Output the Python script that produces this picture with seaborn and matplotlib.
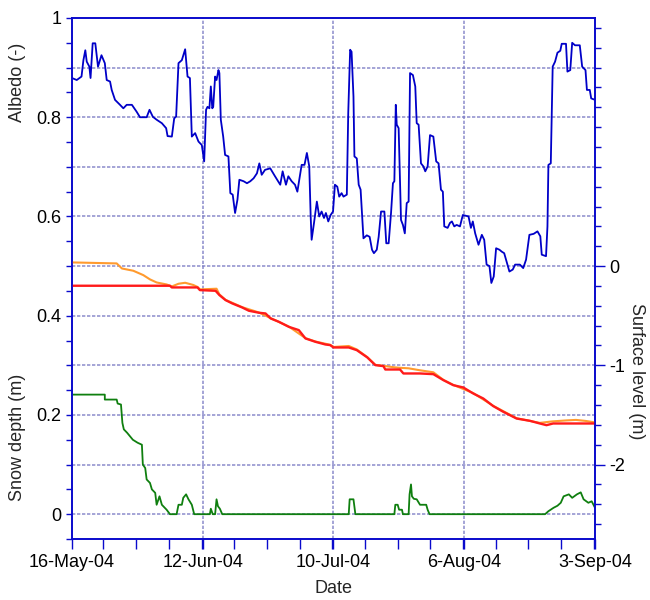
import matplotlib
matplotlib.use("Agg")
import matplotlib.pyplot as plt
from matplotlib.ticker import FixedLocator, MultipleLocator, FuncFormatter
import matplotlib.dates as mdates
import pandas as pd
import seaborn as sns

START = pd.Timestamp("2004-05-16")

# albedo (left axis), days since 16-May-04
albedo_day = [0.0, 1.0, 2.0, 2.4, 2.8, 3.1, 3.65, 3.9, 4.35, 4.9, 5.47, 6.2, 6.9, 7.3,
              8.0, 8.35, 9.05, 10.1, 10.8, 11.5, 12.6, 13.6, 14.3, 15.7, 16.3, 17.0,
              17.8, 18.9, 19.8, 20.1, 21.0, 21.5, 21.9, 22.4, 23.1, 23.8, 24.3, 24.8,
              25.2, 25.9, 26.6, 27.3, 27.8, 28.2, 28.5, 28.9, 29.2, 29.5, 29.7, 30.1,
              30.4, 30.8, 31.0, 31.3, 31.8, 32.2, 32.9, 33.3, 33.8, 34.3, 34.8, 35.2,
              36.1, 36.8, 37.5, 38.2, 38.9, 39.4, 39.9, 40.6, 41.7, 42.7, 43.8, 44.3,
              45.0, 45.5, 46.2, 46.9, 47.4, 48.3, 48.9, 49.4, 49.9, 50.2, 50.4, 50.9,
              51.5, 52.0, 52.5, 53.0, 53.4, 53.9, 54.4, 54.9, 55.3, 55.8, 56.2, 56.7,
              57.1, 57.8, 58.1, 58.5, 58.8, 59.2, 59.4, 59.9, 60.3, 60.7, 61.3, 62.0,
              62.6, 63.1, 63.5, 64.1, 64.5, 65.0, 65.7, 66.1, 66.6, 67.1, 67.5, 67.8,
              68.1, 68.3, 68.7, 69.2, 69.6, 70.0, 70.4, 70.8, 71.1, 71.7, 72.2, 72.5,
              72.9, 73.4, 73.9, 74.3, 74.8, 75.3, 76.0, 76.6, 77.1, 77.6, 78.0, 78.3,
              79.0, 79.5, 79.9, 80.4, 80.9, 81.6, 82.2, 83.4, 83.9, 84.3, 84.8, 85.5,
              86.2, 86.7, 87.2, 87.8, 88.2, 88.7, 89.2, 89.9, 90.4, 90.9, 91.5, 92.0,
              92.7, 93.2, 94.2, 94.9, 95.5, 96.2, 97.1, 97.9, 98.5, 98.8, 99.7, 100.0,
              100.2, 100.7, 101.1, 101.6, 102.1, 102.7, 103.0, 103.9, 104.2, 104.8,
              105.2, 105.8, 106.8, 107.3, 108.0, 108.3, 108.9, 109.2, 110.0]
albedo = [0.879, 0.875, 0.882, 0.915, 0.935, 0.912, 0.902, 0.879, 0.949, 0.949, 0.902,
          0.925, 0.909, 0.875, 0.872, 0.855, 0.835, 0.825, 0.818, 0.825, 0.825, 0.811,
          0.800, 0.800, 0.815, 0.801, 0.795, 0.788, 0.778, 0.762, 0.761, 0.798, 0.801,
          0.909, 0.915, 0.937, 0.882, 0.879, 0.761, 0.768, 0.751, 0.744, 0.711, 0.815,
          0.821, 0.818, 0.862, 0.818, 0.821, 0.882, 0.875, 0.895, 0.889, 0.795, 0.761,
          0.724, 0.721, 0.647, 0.644, 0.607, 0.634, 0.674, 0.671, 0.667, 0.671, 0.677,
          0.687, 0.707, 0.684, 0.694, 0.697, 0.681, 0.664, 0.691, 0.664, 0.681, 0.671,
          0.664, 0.650, 0.704, 0.704, 0.728, 0.701, 0.600, 0.553, 0.587, 0.630, 0.600,
          0.610, 0.597, 0.607, 0.590, 0.603, 0.610, 0.664, 0.660, 0.640, 0.647, 0.640,
          0.644, 0.808, 0.936, 0.932, 0.842, 0.721, 0.717, 0.664, 0.654, 0.556, 0.562,
          0.559, 0.533, 0.526, 0.533, 0.559, 0.610, 0.610, 0.546, 0.546, 0.607, 0.667,
          0.671, 0.825, 0.785, 0.778, 0.593, 0.583, 0.566, 0.627, 0.630, 0.889, 0.885,
          0.862, 0.788, 0.785, 0.707, 0.701, 0.691, 0.701, 0.764, 0.761, 0.711, 0.707,
          0.654, 0.650, 0.580, 0.577, 0.587, 0.590, 0.580, 0.583, 0.580, 0.603, 0.600,
          0.577, 0.590, 0.566, 0.543, 0.563, 0.553, 0.503, 0.500, 0.466, 0.479, 0.536,
          0.533, 0.529, 0.526, 0.506, 0.489, 0.493, 0.503, 0.503, 0.496, 0.513, 0.563,
          0.565, 0.570, 0.560, 0.523, 0.520, 0.580, 0.704, 0.707, 0.902, 0.912, 0.930,
          0.934, 0.948, 0.948, 0.892, 0.895, 0.950, 0.945, 0.945, 0.902, 0.895, 0.855,
          0.855, 0.838, 0.835]

# snow depth (left axis)
snow_day = [0.0, 6.9, 6.9, 9.4, 9.6, 10.3, 10.6, 10.9, 11.6, 12.8, 13.8, 14.7, 14.9,
            15.4, 15.7, 16.4, 16.8, 17.5, 17.8, 18.4, 18.9, 19.9, 20.6, 22.0, 22.4,
            23.1, 23.4, 24.0, 24.5, 25.2, 25.7, 29.0, 29.2, 29.6, 30.1, 30.4, 30.7,
            31.1, 31.6, 58.2, 58.4, 59.2, 59.6, 67.8, 68.0, 68.5, 68.8, 69.4, 69.6,
            70.8, 71.0, 71.3, 71.5, 71.9, 72.5, 73.2, 74.5, 74.8, 75.2, 99.5, 100.2,
            101.3, 102.1, 102.8, 103.4, 104.5, 105.2, 106.2, 107.0, 107.6, 108.6,
            109.3, 110.0]
snow = [0.241, 0.241, 0.231, 0.231, 0.223, 0.221, 0.184, 0.171, 0.164, 0.150, 0.144,
        0.140, 0.100, 0.093, 0.070, 0.063, 0.050, 0.043, 0.019, 0.036, 0.019, 0.009,
        0.0, 0.0, 0.019, 0.019, 0.033, 0.040, 0.030, 0.019, 0.0, 0.0, 0.011, 0.0, 0.0,
        0.030, 0.016, 0.011, 0.0, 0.0, 0.030, 0.030, 0.0, 0.0, 0.019, 0.019, 0.009,
        0.009, 0.0, 0.0, 0.040, 0.060, 0.036, 0.031, 0.030, 0.019, 0.019, 0.009, 0.0,
        0.0, 0.006, 0.013, 0.017, 0.023, 0.036, 0.040, 0.033, 0.040, 0.044, 0.030,
        0.023, 0.026, 0.013]

# surface level, two sensors (right axis)
surf_a_day = [0.0, 9.4, 10.5, 12.9, 15.0, 16.4, 17.8, 19.9, 21.0, 22.4, 23.8, 25.5,
              26.4, 26.9, 30.4, 31.0, 32.3, 35.8, 39.3, 41.8, 45.6, 49.1, 51.2, 54.3,
              55.0, 58.2, 59.9, 62.1, 63.8, 65.5, 67.8, 69.0, 70.8, 73.2, 76.0, 78.1,
              80.2, 84.4, 88.6, 93.5, 98.4, 101.0, 104.0, 106.0, 108.0, 110.0]
surf_a = [0.037, 0.027, -0.024, -0.047, -0.091, -0.134, -0.165, -0.185, -0.205, -0.178,
          -0.168, -0.190, -0.210, -0.235, -0.228, -0.285, -0.340, -0.414, -0.467,
          -0.525, -0.609, -0.726, -0.760, -0.793, -0.815, -0.805, -0.840, -0.917,
          -0.995, -1.005, -1.020, -1.025, -1.030, -1.050, -1.070, -1.146, -1.197,
          -1.280, -1.408, -1.533, -1.580, -1.565, -1.555, -1.550, -1.560, -1.575]
surf_b_day = [0.0, 20.6, 21.0, 26.4, 26.9, 30.2, 31.0, 32.3, 33.7, 35.8, 37.2, 39.3,
              40.7, 41.8, 43.5, 45.6, 47.7, 49.1, 51.2, 53.3, 54.3, 55.0, 58.2, 59.9,
              62.1, 63.8, 65.5, 65.9, 69.0, 69.7, 73.2, 76.0, 78.1, 80.2, 82.3, 84.4,
              86.5, 88.6, 90.7, 93.5, 96.3, 98.4, 99.8, 101.2, 110.0]
surf_b = [-0.198, -0.198, -0.215, -0.215, -0.242, -0.249, -0.292, -0.343, -0.376,
          -0.417, -0.450, -0.470, -0.477, -0.528, -0.561, -0.612, -0.645, -0.729,
          -0.763, -0.790, -0.796, -0.820, -0.820, -0.847, -0.920, -0.998, -1.008,
          -1.042, -1.042, -1.082, -1.082, -1.089, -1.149, -1.200, -1.223, -1.284,
          -1.334, -1.411, -1.468, -1.536, -1.559, -1.586, -1.603, -1.586, -1.586]

x_tick_days = [0, 27.5, 55, 82.5, 110]
x_tick_labels = ["16-May-04", "12-Jun-04", "10-Jul-04", "6-Aug-04", "3-Sep-04"]

BLUE = "#0a0acc"
GRID = "#7a7ac4"


def to_frame(days, values):
    dates = START + pd.to_timedelta(days, unit="D")
    return pd.DataFrame({"date": dates, "value": values})


sns.set_style("white")
plt.rcParams["font.family"] = ["Liberation Sans", "DejaVu Sans"]
plt.rcParams["axes.unicode_minus"] = False
plt.rcParams["font.size"] = 13

fig = plt.figure(figsize=(6.5, 6.0), dpi=100)
ax = fig.add_axes([72 / 650, 1 - 539 / 600, 523 / 650, 521 / 600])
ax2 = ax.twinx()

# dashed reference grid every 0.1 on the left scale
for v in [0.0, 0.1, 0.2, 0.3, 0.4, 0.5, 0.6, 0.7, 0.8, 0.9]:
    ax.axhline(v, color=GRID, lw=1.2, ls=(0, (2, 1)), alpha=0.8, zorder=0)

kw = dict(x="date", y="value", estimator=None, sort=False, legend=False)
sns.lineplot(data=to_frame(albedo_day, albedo), color="#0000c8", lw=1.3, ax=ax, **kw)
sns.lineplot(data=to_frame(snow_day, snow), color="#0f7f0f", lw=1.3, ax=ax, **kw)
sns.lineplot(data=to_frame(surf_a_day, surf_a), color="#ff9a2e", lw=1.5, ax=ax2, **kw)
sns.lineplot(data=to_frame(surf_b_day, surf_b), color="#ff1a1a", lw=1.7, ax=ax2, **kw)

# x axis as dates
ticks = [mdates.date2num(START + pd.Timedelta(days=d)) for d in x_tick_days]
ax.set_xlim(ticks[0], ticks[-1])
ax.set_xticks(ticks)
ax.set_xticklabels(x_tick_labels)
ax.xaxis.set_minor_locator(MultipleLocator((ticks[1] - ticks[0]) / 4))
ax.grid(axis="x", which="major", color=GRID, lw=1.2, ls=(0, (2, 1)), alpha=0.8)
ax.set_xlabel("Date", labelpad=6)

ax.set_ylim(-0.05, 1.0)
ax.yaxis.set_major_locator(MultipleLocator(0.2))
ax.yaxis.set_minor_locator(MultipleLocator(0.05))
ax.yaxis.set_major_formatter(FuncFormatter(lambda v, p: f"{round(v, 2) + 0:g}"))
ax.set_ylabel("")

ax2.set_ylim(-2.75, 2.5)
ax2.yaxis.set_major_locator(FixedLocator([-2, -1, 0]))
ax2.yaxis.set_minor_locator(MultipleLocator(0.2))
ax2.yaxis.set_major_formatter(FuncFormatter(lambda v, p: f"{v:g}"))
ax2.set_ylabel("")
ax2.grid(False)

for a in (ax, ax2):
    for s in a.spines.values():
        s.set_color(BLUE)
        s.set_linewidth(1.2)
    a.tick_params(which="both", direction="out", color=BLUE, labelcolor="black",
                  labelsize=13, width=1.0)

ax.tick_params(axis="x", which="both", length=7, pad=4)
ax.tick_params(axis="y", which="both", length=4, left=True, right=False)
ax.xaxis.set_ticks_position("bottom")
ax.yaxis.set_ticks_position("left")
ax2.tick_params(axis="y", which="major", length=7, pad=3)
ax2.tick_params(axis="y", which="minor", length=4)

fig.text(18 / 650, 1 - 82 / 600, "Albedo (-)", rotation=90, ha="center", va="center", fontsize=13)
fig.text(18 / 650, 1 - 437 / 600, "Snow depth (m)", rotation=90, ha="center", va="center", fontsize=13)
fig.text(637 / 650, 1 - 371 / 600, "Surface level (m)", rotation=270, ha="center", va="center", fontsize=13)

fig.savefig("out.png", dpi=100)
